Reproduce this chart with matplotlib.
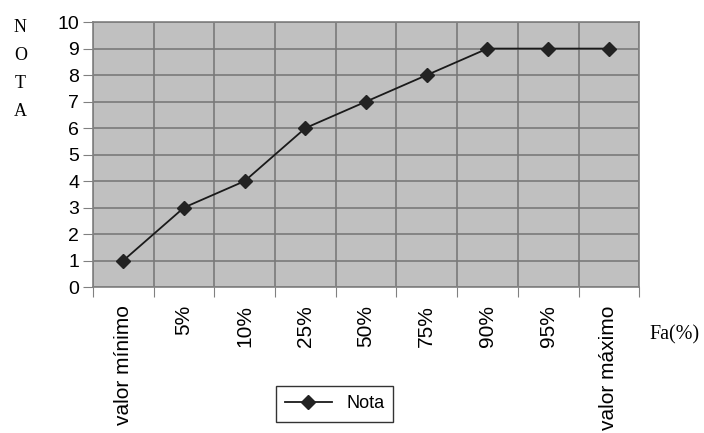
import numpy as np
import matplotlib.pyplot as plt

categorias = ["valor mínimo", "5%", "10%", "25%", "50%", "75%", "90%", "95%", "valor máximo"]
nota = [1, 3, 4, 6, 7, 8, 9, 9, 9]

plt.rcParams["font.family"] = ["Liberation Sans", "DejaVu Sans"]

fig = plt.figure(figsize=(7.04, 4.33), dpi=100)
ax = fig.add_axes([0.132, 0.337, 0.776, 0.612])
ax.set_facecolor("#c0c0c0")

x = np.arange(len(categorias))
ax.plot(x, nota, color="#1a1a1a", lw=1.3, marker="D", ms=7, mfc="#222222", mec="#222222",
        label="Nota", zorder=3)

ax.set_xlim(-0.5, len(categorias) - 0.5)
ax.set_ylim(0, 10)
ax.set_yticks(range(0, 11))
ax.set_xticks(np.append(x - 0.5, len(categorias) - 0.5))
ax.set_xticklabels([])
ax.set_xticks(x, minor=True)
ax.set_xticklabels(categorias, minor=True, rotation=90, va="top", ha="center", fontsize=15)
ax.tick_params(axis="x", which="minor", length=0, pad=13)
ax.tick_params(axis="x", which="major", length=7, color="#808080")
ax.tick_params(axis="y", length=7, color="#808080", labelsize=14, pad=3)

ax.grid(True, which="major", color="#7a7a7a", lw=1.2)
ax.set_axisbelow(True)
for s in ax.spines.values():
    s.set_color("#808080")
    s.set_linewidth(1.2)

for i, letra in enumerate("NOTA"):
    fig.text(0.029, 1 - (27 + i * 28) / 433, letra, family="Liberation Serif", fontsize=13,
             ha="center", va="center")
fig.text(0.922, 1 - 335 / 433, "Fa(%)", family="Liberation Serif", fontsize=14.5,
         ha="left", va="center")

fig.legend(loc="center", bbox_to_anchor=(0.475, 0.067), fancybox=False, edgecolor="#333333",
           fontsize=13, handlelength=2.6, borderpad=0.5, framealpha=1)

fig.savefig("out.png", dpi=100)
